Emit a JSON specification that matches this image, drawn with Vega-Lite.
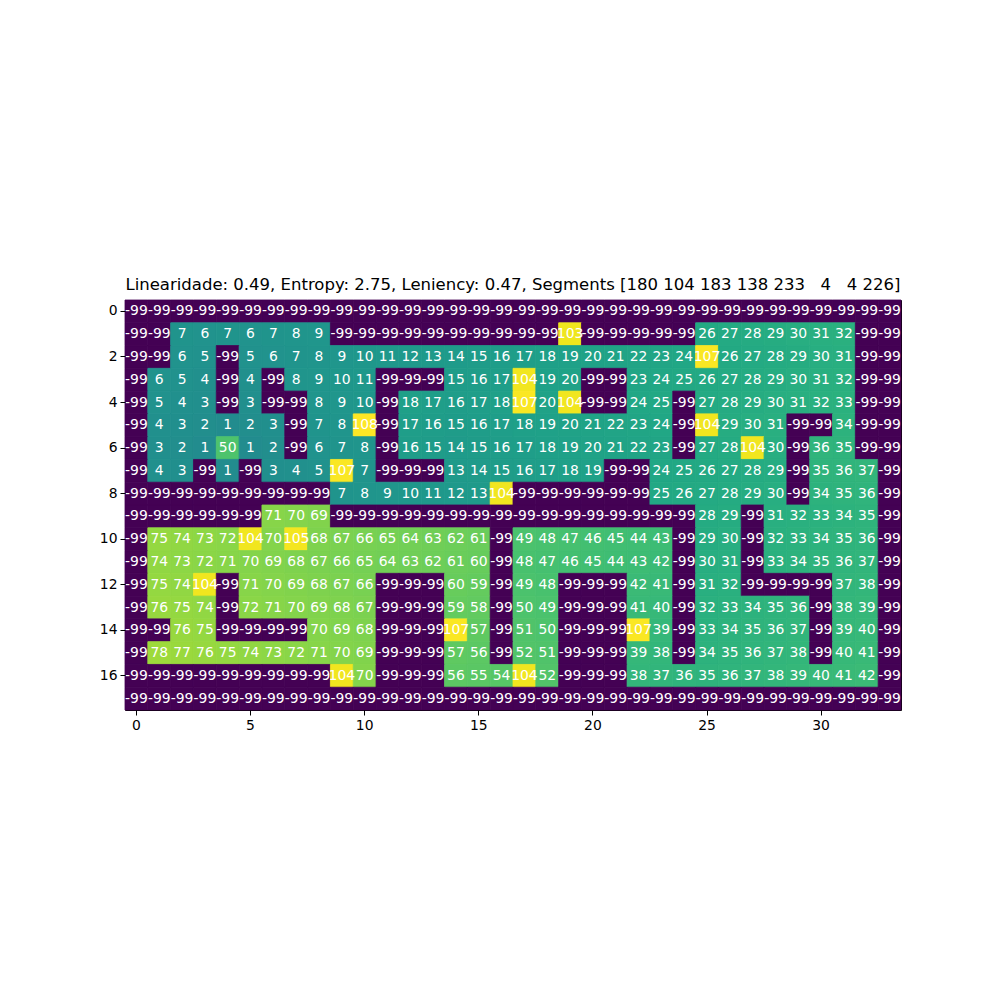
{
  "$schema": "https://vega.github.io/schema/vega-lite/v6.json",
  "width": 776,
  "height": 410,
  "autosize": "none",
  "padding": {"left": 125, "top": 300, "right": 99, "bottom": 290},
  "background": "white",
  "config": {
    "view": {"stroke": "black", "strokeWidth": 1},
    "font": "DejaVu Sans",
    "axis": {"grid": false}
  },
  "title": {
    "text": "Linearidade: 0.49, Entropy: 2.75, Leniency: 0.47, Segments [180 104 183 138 233\u00a0\u00a0\u00a04\u00a0\u00a0\u00a04 226]",
    "font": "DejaVu Sans",
    "fontSize": 16.5,
    "fontWeight": "normal",
    "color": "black",
    "anchor": "middle",
    "offset": 6
  },
  "data": {
    "values": [
      {"r":0,"c":[0,1,2,3,4,5,6,7,8,9,10,11,12,13,14,15,16,17,18,19,20,21,22,23,24,25,26,27,28,29,30,31,32,33],"v":[-99,-99,-99,-99,-99,-99,-99,-99,-99,-99,-99,-99,-99,-99,-99,-99,-99,-99,-99,-99,-99,-99,-99,-99,-99,-99,-99,-99,-99,-99,-99,-99,-99,-99]},
      {"r":1,"c":[0,1,2,3,4,5,6,7,8,9,10,11,12,13,14,15,16,17,18,19,20,21,22,23,24,25,26,27,28,29,30,31,32,33],"v":[-99,-99,7,6,7,6,7,8,9,-99,-99,-99,-99,-99,-99,-99,-99,-99,-99,103,-99,-99,-99,-99,-99,26,27,28,29,30,31,32,-99,-99]},
      {"r":2,"c":[0,1,2,3,4,5,6,7,8,9,10,11,12,13,14,15,16,17,18,19,20,21,22,23,24,25,26,27,28,29,30,31,32,33],"v":[-99,-99,6,5,-99,5,6,7,8,9,10,11,12,13,14,15,16,17,18,19,20,21,22,23,24,107,26,27,28,29,30,31,-99,-99]},
      {"r":3,"c":[0,1,2,3,4,5,6,7,8,9,10,11,12,13,14,15,16,17,18,19,20,21,22,23,24,25,26,27,28,29,30,31,32,33],"v":[-99,6,5,4,-99,4,-99,8,9,10,11,-99,-99,-99,15,16,17,104,19,20,-99,-99,23,24,25,26,27,28,29,30,31,32,-99,-99]},
      {"r":4,"c":[0,1,2,3,4,5,6,7,8,9,10,11,12,13,14,15,16,17,18,19,20,21,22,23,24,25,26,27,28,29,30,31,32,33],"v":[-99,5,4,3,-99,3,-99,-99,8,9,10,-99,18,17,16,17,18,107,20,104,-99,-99,24,25,-99,27,28,29,30,31,32,33,-99,-99]},
      {"r":5,"c":[0,1,2,3,4,5,6,7,8,9,10,11,12,13,14,15,16,17,18,19,20,21,22,23,24,25,26,27,28,29,30,31,32,33],"v":[-99,4,3,2,1,2,3,-99,7,8,108,-99,17,16,15,16,17,18,19,20,21,22,23,24,-99,104,29,30,31,-99,-99,34,-99,-99]},
      {"r":6,"c":[0,1,2,3,4,5,6,7,8,9,10,11,12,13,14,15,16,17,18,19,20,21,22,23,24,25,26,27,28,29,30,31,32,33],"v":[-99,3,2,1,50,1,2,-99,6,7,8,-99,16,15,14,15,16,17,18,19,20,21,22,23,-99,27,28,104,30,-99,36,35,-99,-99]},
      {"r":7,"c":[0,1,2,3,4,5,6,7,8,9,10,11,12,13,14,15,16,17,18,19,20,21,22,23,24,25,26,27,28,29,30,31,32,33],"v":[-99,4,3,-99,1,-99,3,4,5,107,7,-99,-99,-99,13,14,15,16,17,18,19,-99,-99,24,25,26,27,28,29,-99,35,36,37,-99]},
      {"r":8,"c":[0,1,2,3,4,5,6,7,8,9,10,11,12,13,14,15,16,17,18,19,20,21,22,23,24,25,26,27,28,29,30,31,32,33],"v":[-99,-99,-99,-99,-99,-99,-99,-99,-99,7,8,9,10,11,12,13,104,-99,-99,-99,-99,-99,-99,25,26,27,28,29,30,-99,34,35,36,-99]},
      {"r":9,"c":[0,1,2,3,4,5,6,7,8,9,10,11,12,13,14,15,16,17,18,19,20,21,22,23,24,25,26,27,28,29,30,31,32,33],"v":[-99,-99,-99,-99,-99,-99,71,70,69,-99,-99,-99,-99,-99,-99,-99,-99,-99,-99,-99,-99,-99,-99,-99,-99,28,29,-99,31,32,33,34,35,-99]},
      {"r":10,"c":[0,1,2,3,4,5,6,7,8,9,10,11,12,13,14,15,16,17,18,19,20,21,22,23,24,25,26,27,28,29,30,31,32,33],"v":[-99,75,74,73,72,104,70,105,68,67,66,65,64,63,62,61,-99,49,48,47,46,45,44,43,-99,29,30,-99,32,33,34,35,36,-99]},
      {"r":11,"c":[0,1,2,3,4,5,6,7,8,9,10,11,12,13,14,15,16,17,18,19,20,21,22,23,24,25,26,27,28,29,30,31,32,33],"v":[-99,74,73,72,71,70,69,68,67,66,65,64,63,62,61,60,-99,48,47,46,45,44,43,42,-99,30,31,-99,33,34,35,36,37,-99]},
      {"r":12,"c":[0,1,2,3,4,5,6,7,8,9,10,11,12,13,14,15,16,17,18,19,20,21,22,23,24,25,26,27,28,29,30,31,32,33],"v":[-99,75,74,104,-99,71,70,69,68,67,66,-99,-99,-99,60,59,-99,49,48,-99,-99,-99,42,41,-99,31,32,-99,-99,-99,-99,37,38,-99]},
      {"r":13,"c":[0,1,2,3,4,5,6,7,8,9,10,11,12,13,14,15,16,17,18,19,20,21,22,23,24,25,26,27,28,29,30,31,32,33],"v":[-99,76,75,74,-99,72,71,70,69,68,67,-99,-99,-99,59,58,-99,50,49,-99,-99,-99,41,40,-99,32,33,34,35,36,-99,38,39,-99]},
      {"r":14,"c":[0,1,2,3,4,5,6,7,8,9,10,11,12,13,14,15,16,17,18,19,20,21,22,23,24,25,26,27,28,29,30,31,32,33],"v":[-99,-99,76,75,-99,-99,-99,-99,70,69,68,-99,-99,-99,107,57,-99,51,50,-99,-99,-99,107,39,-99,33,34,35,36,37,-99,39,40,-99]},
      {"r":15,"c":[0,1,2,3,4,5,6,7,8,9,10,11,12,13,14,15,16,17,18,19,20,21,22,23,24,25,26,27,28,29,30,31,32,33],"v":[-99,78,77,76,75,74,73,72,71,70,69,-99,-99,-99,57,56,-99,52,51,-99,-99,-99,39,38,-99,34,35,36,37,38,-99,40,41,-99]},
      {"r":16,"c":[0,1,2,3,4,5,6,7,8,9,10,11,12,13,14,15,16,17,18,19,20,21,22,23,24,25,26,27,28,29,30,31,32,33],"v":[-99,-99,-99,-99,-99,-99,-99,-99,-99,104,70,-99,-99,-99,56,55,54,104,52,-99,-99,-99,38,37,36,35,36,37,38,39,40,41,42,-99]},
      {"r":17,"c":[0,1,2,3,4,5,6,7,8,9,10,11,12,13,14,15,16,17,18,19,20,21,22,23,24,25,26,27,28,29,30,31,32,33],"v":[-99,-99,-99,-99,-99,-99,-99,-99,-99,-99,-99,-99,-99,-99,-99,-99,-99,-99,-99,-99,-99,-99,-99,-99,-99,-99,-99,-99,-99,-99,-99,-99,-99,-99]}
    ]
  },
  "transform": [{"flatten": ["c", "v"]}],
  "encoding": {
    "x": {
      "field": "c", "type": "ordinal", "sort": "ascending",
      "scale": {"paddingInner": 0, "paddingOuter": 0},
      "axis": {
        "title": null, "values": [0, 5, 10, 15, 20, 25, 30], "labelAngle": 0, "grid": false,
        "domain": false, "tickColor": "black", "tickSize": 5, "labelPadding": 3,
        "labelFont": "DejaVu Sans", "labelFontSize": 13.9, "labelColor": "black"
      }
    },
    "y": {
      "field": "r", "type": "ordinal", "sort": "ascending",
      "scale": {"paddingInner": 0, "paddingOuter": 0},
      "axis": {
        "title": null, "values": [0, 2, 4, 6, 8, 10, 12, 14, 16], "grid": false,
        "domain": false, "tickColor": "black", "tickSize": 5, "labelPadding": 3,
        "labelFont": "DejaVu Sans", "labelFontSize": 13.9, "labelColor": "black"
      }
    }
  },
  "layer": [
    {
      "mark": {"type": "rect", "strokeWidth": 0.8, "strokeOpacity": 1},
      "encoding": {
        "color": {
          "field": "v", "type": "quantitative",
          "scale": {"scheme": "viridis", "domain": [-99, 108]},
          "legend": null
        },
        "stroke": {
          "field": "v", "type": "quantitative",
          "scale": {"scheme": "viridis", "domain": [-99, 108]},
          "legend": null
        }
      }
    },
    {
      "mark": {"type": "text", "color": "white", "font": "DejaVu Sans", "fontSize": 13.9, "align": "center", "baseline": "middle"},
      "encoding": {"text": {"field": "v", "type": "nominal"}}
    }
  ]
}
